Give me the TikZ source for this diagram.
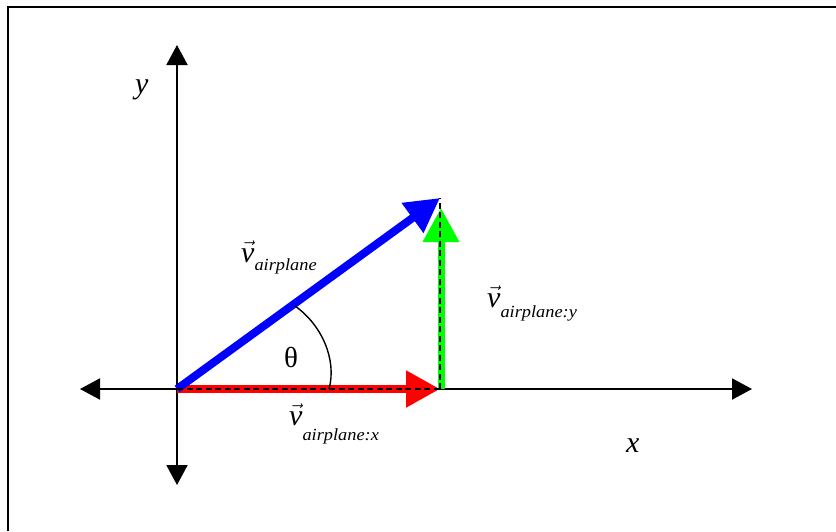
\documentclass[tikz,border=0pt]{standalone}
\usepackage{fontspec}
\usepackage{graphicx}
\setmainfont{Liberation Serif}
\usetikzlibrary{arrows.meta}
\tikzset{
  axisline/.style={line width=2pt, black, {Triangle[length=20pt,width=21pt]}-{Triangle[length=20pt,width=21pt]}},
  vecline/.style={line width=8pt, -{Triangle[length=34pt,width=35pt]}},
  dashline/.style={line width=1.8pt, black, dash pattern=on 6pt off 3.5pt},
  lbl/.style={inner sep=0pt, anchor=base west},
}
\newcommand{\vsym}{{\fontsize{30}{30}\selectfont$\vec{\mbox{\itshape v}}$}}
\newcommand{\vsub}[2]{\raisebox{-#1}{\scalebox{1.08}[1]{\fontsize{17}{17}\selectfont\itshape #2}}}
\begin{document}
\begin{tikzpicture}[x=1pt,y=-1pt]
\useasboundingbox (0,0) rectangle (836,531);
% frame (left and top edges)
\coordinate (fbl) at (7.5,531);
\coordinate (ftl) at (7.5,6.5);
\coordinate (ftr) at (836,6.5);
\draw[line width=2pt] (fbl) -- (ftl) -- (ftr);
% axes
\coordinate (O) at (177,389);
\coordinate (xl) at (80,389);
\coordinate (xr) at (752,389);
\coordinate (yt) at (177,45);
\coordinate (yb) at (177,485);
\draw[axisline] (xl) -- (xr);
\draw[axisline] (yb) -- (yt);
% vectors
\coordinate (P) at (440,198);
\coordinate (Q) at (440,389);
\coordinate (G) at (441,208);
\coordinate (Gb) at (441,389);
\draw[vecline, red] (O) -- (Q);
\draw[vecline, green, line width=7pt] (Gb) -- (G);
\draw[vecline, blue] (O) -- (P);
\draw[dashline] (O) -- (Q);
\draw[dashline] (Q) -- (P);
% angle arc
\coordinate (a1) at (295,306);
\coordinate (a2) at (329,389);
\draw[line width=1.4pt] (a1) .. controls (322,325) and (337,360) .. (a2);
% labels
\node[inner sep=0pt] (theta) at (291,357) {\fontsize{29}{29}\selectfont θ};
\node[lbl] (ylab) at (135,93) {\fontsize{30}{30}\selectfont\itshape y};
\node[lbl] (xlab) at (626,452) {\fontsize{30}{30}\selectfont\itshape x};
\node[lbl] (vlab) at (241,262) {\vsym\vsub{8pt}{airplane}};
\node[lbl] (vxlab) at (289,425) {\vsym\vsub{15pt}{airplane:x}};
\node[lbl] (vylab) at (487,307) {\vsym\vsub{10pt}{airplane:y}};
\end{tikzpicture}
\end{document}
